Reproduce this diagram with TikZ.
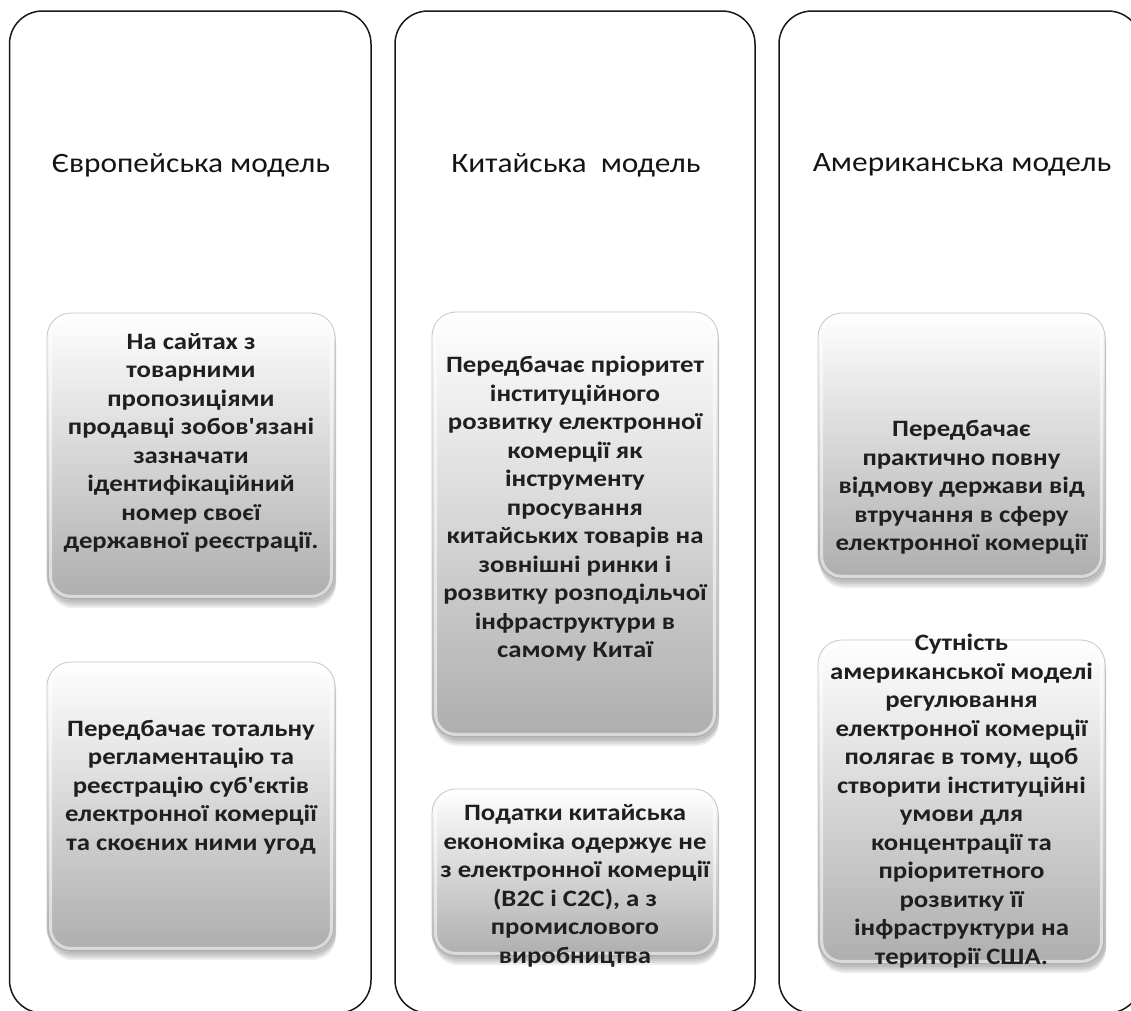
\documentclass[tikz,border=0pt]{standalone}
\usepackage{fontspec}
\setmainfont{Carlito}[Ligatures=TeXOff, FakeStretch=1.12]
\newfontfamily\boxfont{Carlito}[Ligatures=TeXOff, FakeStretch=1.14]
\begin{document}
\begin{tikzpicture}[x=1pt,y=-1pt,
  col/.style={rectangle, draw=black!90, line width=1.5pt, rounded corners=33pt, fill=white, inner sep=0},
  gbox/.style={rectangle, rounded corners=24pt, top color=white, middle color=black!7, bottom color=black!32, draw=black!22, line width=0.8pt, inner sep=0},
  rim/.style={draw=white, opacity=0.55, line width=3pt, rounded corners=20pt},
  ttl/.style={font=\fontsize{28}{34}\selectfont, inner sep=0, text=black!92},
  btxt/.style={font=\boxfont\bfseries\fontsize{23.5}{28.5}\selectfont, align=center, inner sep=0, text=black!88},
  shd/.style={fill=black, opacity=0.07, rounded corners=24pt}
]
\useasboundingbox (0,0) rectangle (1131,1010);
\clip (0,0) rectangle (1131,1010);
\fill[white] (0,0) rectangle (1131,1010);

% columns
\node[col, minimum width=361.5pt, minimum height=1002pt] (C1) at (190.25,512) {};
\node[col, minimum width=360pt, minimum height=1002pt] (C2) at (575,512) {};
\node[col, minimum width=362pt, minimum height=1002pt] (C3) at (960,512) {};

% titles
\node[ttl] (T1) at (191,165) {Європейська модель};
\node[ttl] (T2) at (576,165) {Китайська\ \ модель};
\node[ttl] (T3) at (962,165) {Американська модель};

% shadows
\foreach \xa/\ya/\xb/\yb in {47/313/335/600, 47/662/335/952, 432/312/718/738, 432/789/718/957, 818/313/1105/580, 818/640/1105/965}{
  \foreach \k in {2,4,6,8}{
    \fill[shd] (\xa+2,\ya+\k) rectangle (\xb+1,\yb+\k);
  }
}

% boxes
\node[gbox, minimum width=288pt, minimum height=287pt] (E1) at (191,456.5) {};
\node[gbox, minimum width=288pt, minimum height=290pt] (E2) at (191,807) {};
\node[gbox, minimum width=286pt, minimum height=426pt] (K1) at (575,525) {};
\node[gbox, minimum width=286pt, minimum height=168pt] (K2) at (575,873) {};
\node[gbox, minimum width=287pt, minimum height=267pt] (A1) at (961.5,446.5) {};
\node[gbox, minimum width=287pt, minimum height=325pt] (A2) at (961.5,802.5) {};

% glossy rims
\foreach \n in {E1,E2,K1,K2,A1,A2}{
  \draw[rim] ([shift={(4pt,4pt)}]\n.south west) rectangle ([shift={(-4pt,-4pt)}]\n.north east);
}

% texts
\node[btxt] (E1t) at (191,443) {На сайтах з\\товарними\\пропозиціями\\продавці зобов'язані\\зазначати\\ідентифікаційний\\номер своєї\\державної реєстрації.};
\node[btxt] (E2t) at (191,787) {Передбачає тотальну\\регламентацію та\\реєстрацію суб'єктів\\електронної комерції\\та скоєних ними угод};
\node[btxt] (K1t) at (575,509) {Передбачає пріоритет\\інституційного\\розвитку електронної\\комерції як\\інструменту\\просування\\китайських товарів на\\зовнішні ринки і\\розвитку розподільчої\\інфраструктури в\\самому Китаї};
\node[btxt] (K2t) at (575,886) {Податки китайська\\економіка одержує не\\з електронної комерції\\(B2C і C2C), а з\\промислового\\виробництва};
\node[btxt] (A1t) at (961.5,487.5) {Передбачає\\практично повну\\відмову держави від\\втручання в сферу\\електронної комерції};
\node[btxt] (A2t) at (961.5,801) {Сутність\\американської моделі\\регулювання\\електронної комерції\\полягає в тому, щоб\\створити інституційні\\умови для\\концентрації та\\пріоритетного\\розвитку її\\інфраструктури на\\території США.};
\end{tikzpicture}
\end{document}
